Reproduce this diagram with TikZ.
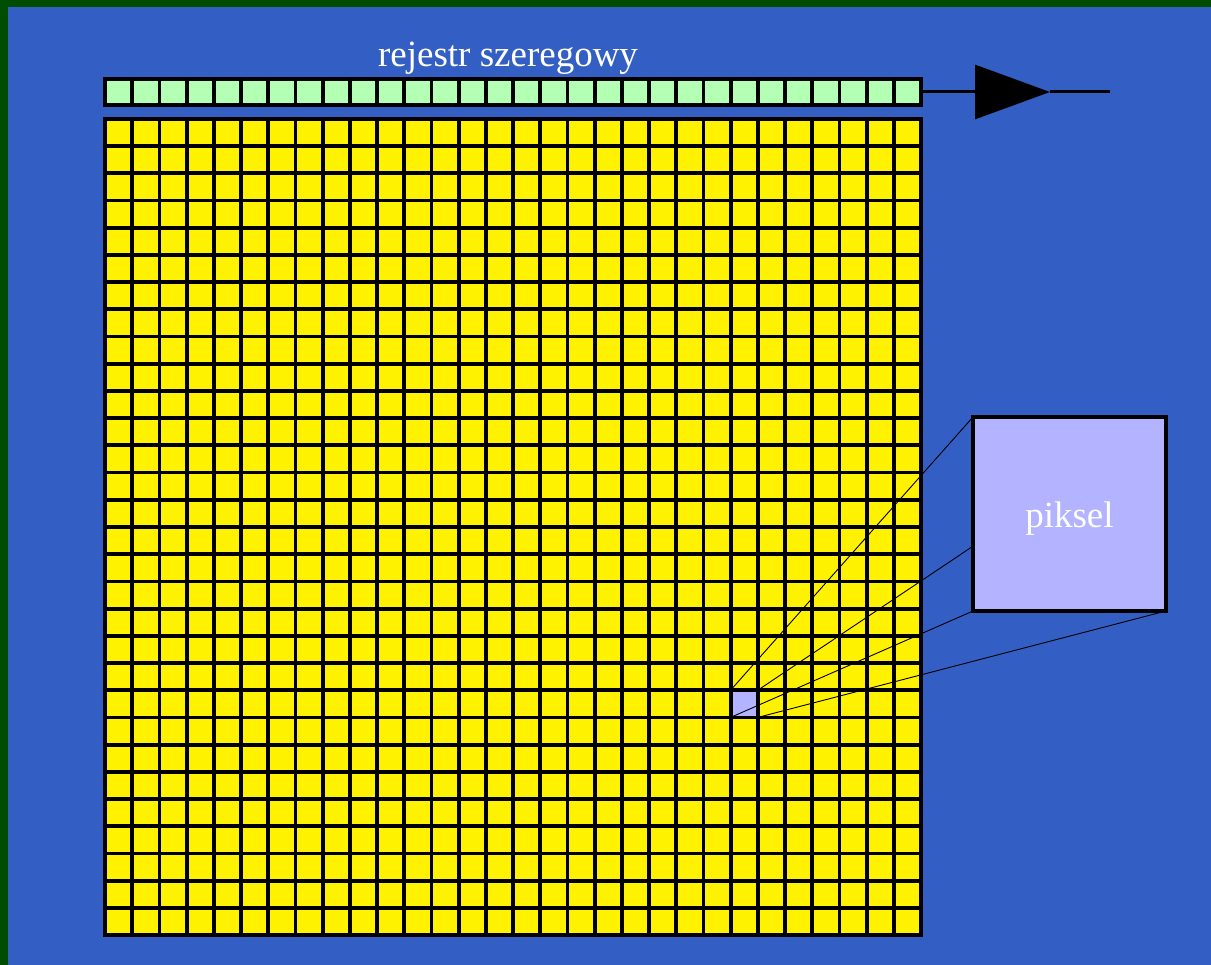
\documentclass[tikz,border=0pt]{standalone}
\usepackage{fontspec}
\setmainfont{Liberation Serif}
\usepackage{tikz}
\usetikzlibrary{arrows.meta, backgrounds, positioning}
\definecolor{framegreen}{RGB}{0,77,0}
\definecolor{bgblue}{RGB}{51,94,196}
\definecolor{reggreen}{RGB}{179,255,179}
\definecolor{pixlav}{RGB}{179,179,255}

\begin{document}
\begin{tikzpicture}[x=1pt, y=-1pt,
    gridline/.style={black, line width=3.8pt, line cap=rect},
    regbox/.style={draw=black, fill=reggreen, line width=3.8pt, inner sep=0pt,
                   outer sep=0pt, minimum width=816pt, minimum height=26pt},
    pixcell/.style={draw=black, fill=pixlav, line width=3.8pt, inner sep=0pt,
                    outer sep=0pt, minimum size=27.2pt},
    zoombox/.style={draw=black, fill=pixlav, line width=3.8pt, inner sep=0pt,
                    outer sep=0pt, minimum width=193pt, minimum height=194pt,
                    text=white, text height=35pt, text depth=8pt,
                    font=\fontsize{37}{44}\selectfont},
    caption/.style={text=white, inner sep=0pt, font=\fontsize{37}{44}\selectfont},
    zoomline/.style={black, line width=0.9pt},
    shiftline/.style={black, line width=3pt}]
  \useasboundingbox (0,0) rectangle (1211,965);
  \def\gx{105}
  \def\gy{119}
  \def\pitch{27.2}

  \begin{scope}[on background layer]
    % Frame and backdrop
    \fill[framegreen] (0,0) rectangle (1211,965);
    \fill[bgblue] (8,7) rectangle (1211,965);

    % Sensor array, 30 x 30 cells
    \fill[yellow] (\gx,\gy) rectangle ++({30*\pitch},{30*\pitch});
    \foreach \i in {0,...,30} {
      \draw[gridline] ({\gx+\i*\pitch},\gy) -- ({\gx+\i*\pitch},{\gy+30*\pitch});
      \draw[gridline] (\gx,{\gy+\i*\pitch}) -- ({\gx+30*\pitch},{\gy+\i*\pitch});
    }

    % Highlighted pixel
    \node[pixcell] (pix) at ({\gx+23.5*\pitch},{\gy+21.5*\pitch}) {};
  \end{scope}

  % Shift register on top
  \node[regbox] (reg) at ({\gx+15*\pitch},92) {};
  \foreach \i in {1,...,29}
    \draw[gridline, line cap=butt] ({\gx+\i*\pitch},79) -- ({\gx+\i*\pitch},105);
  \node[caption, above=4pt of reg, xshift=-5pt] (title) {rejestr szeregowy};

  % Output arrow
  \coordinate (tip) at (1050,92);
  \coordinate (regout) at (1110,92);
  \draw[shiftline, -{Triangle[length=75pt, width=54pt]}] (reg.east) -- (tip);
  \draw[shiftline] (tip) -- (regout);

  % Magnified pixel
  \node[zoombox] (zoom) at (1069.5,514) {piksel};

  \begin{scope}[on background layer]
    \draw[zoomline] (pix.north west) -- (zoom.north west);
    \draw[zoomline] (pix.north east) -- (zoom.north east);
    \draw[zoomline] (pix.south west) -- (zoom.south west);
    \draw[zoomline] (pix.south east) -- (zoom.south east);
  \end{scope}
\end{tikzpicture}
\end{document}
